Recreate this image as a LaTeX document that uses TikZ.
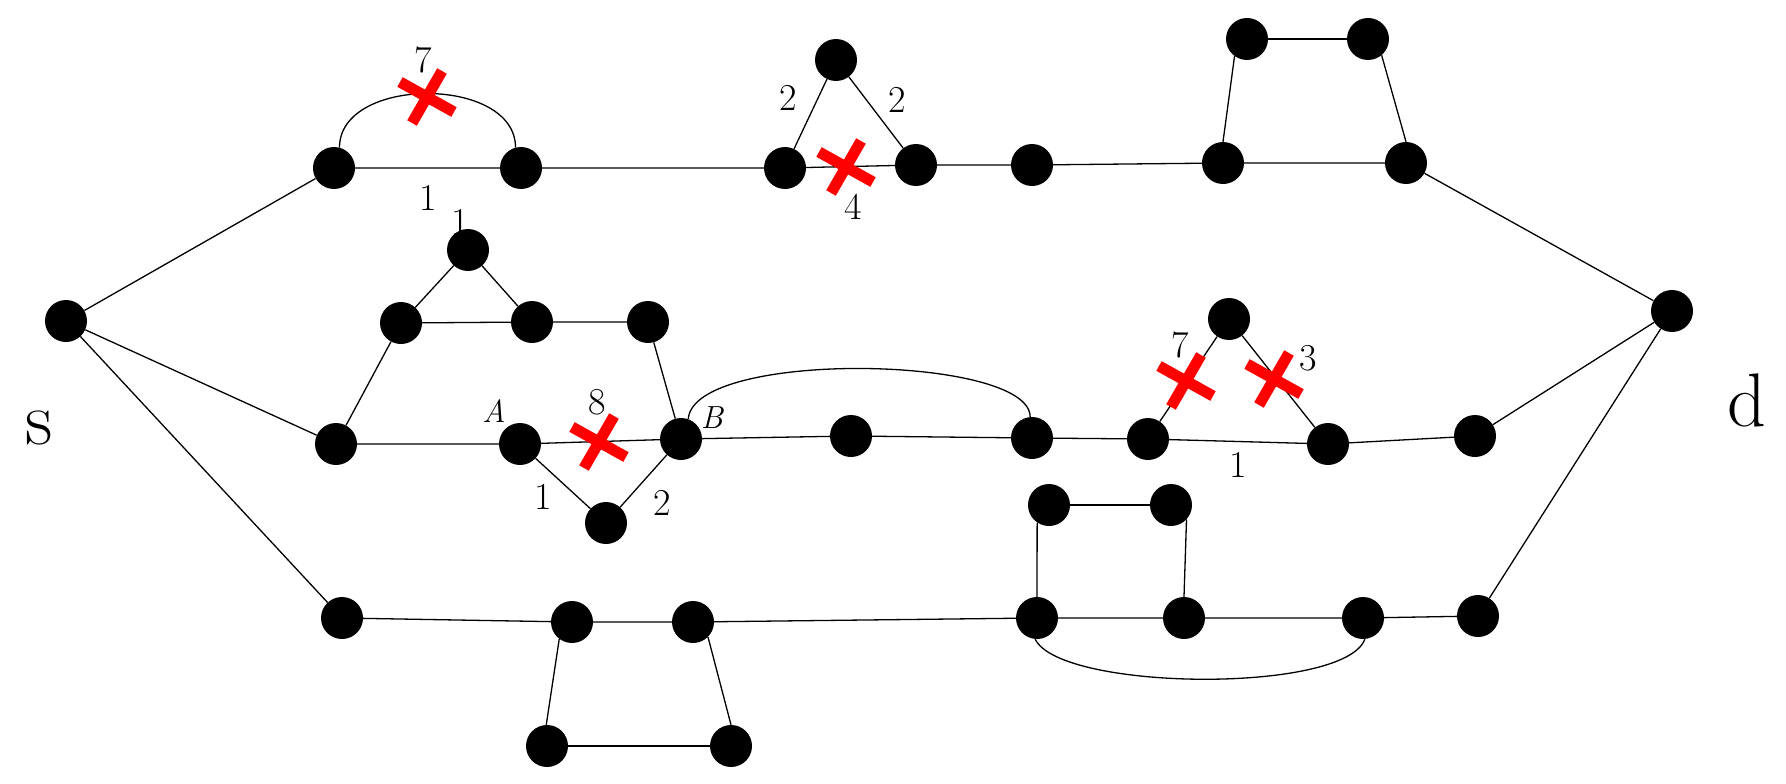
\documentclass[tikz,border=0pt]{standalone}
\usepackage{fontspec}
\begin{document}
\begin{tikzpicture}[x=1pt,y=-1pt,
  vtx/.style={circle,fill=black,inner sep=0pt,minimum size=42pt},
  edge/.style={line width=1.3pt,black},
  lbl/.style={inner sep=0pt,font=\fontsize{38}{40}\selectfont},
  ptl/.style={inner sep=0pt,font=\fontsize{32}{34}\selectfont\itshape},
  big/.style={inner sep=0pt,font=\fontsize{76}{80}\selectfont},
  redx/.pic={\draw[red,line width=11pt] (-27,-15) -- (27,15);
             \draw[red,line width=11pt] (15,-26) -- (-15,26);}
]
\useasboundingbox (0,0) rectangle (1786,784);
% nodes
\node[vtx] (s) at (66,321) {};
\node[vtx] (t1) at (334,168) {};
\node[vtx] (t2) at (521,168) {};
\node[vtx] (ta) at (785,168) {};
\node[vtx] (tp) at (836,60) {};
\node[vtx] (tb) at (916,165) {};
\node[vtx] (t3) at (1032,165) {};
\node[vtx] (t4) at (1223,163) {};
\node[vtx] (t5) at (1406,163) {};
\node[vtx] (q1) at (1247,39) {};
\node[vtx] (q2) at (1368,39) {};
\node[vtx] (d) at (1672,311) {};
\node[vtx] (m1) at (336,444) {};
\node[vtx] (mt1) at (401,323) {};
\node[vtx] (mtp) at (468,250) {};
\node[vtx] (mt2) at (532,322) {};
\node[vtx] (mt3) at (648,322) {};
\node[vtx] (A) at (520,444) {};
\node[vtx] (B) at (681,439) {};
\node[vtx] (mb) at (606,523) {};
\node[vtx] (m2) at (851,436) {};
\node[vtx] (m3) at (1032,438) {};
\node[vtx] (m4) at (1148,439) {};
\node[vtx] (mp) at (1229,319) {};
\node[vtx] (m5) at (1328,444) {};
\node[vtx] (m6) at (1475,436) {};
\node[vtx] (b1) at (342,618) {};
\node[vtx] (b2) at (572,622) {};
\node[vtx] (b3) at (693,622) {};
\node[vtx] (bs1) at (547,746) {};
\node[vtx] (bs2) at (731,746) {};
\node[vtx] (b4) at (1037,618) {};
\node[vtx] (bq1) at (1049,505) {};
\node[vtx] (bq2) at (1171,505) {};
\node[vtx] (b5) at (1184,618) {};
\node[vtx] (b6) at (1363,618) {};
\node[vtx] (b7) at (1478,616) {};
% edges
\draw[edge] (s) -- (t1);
\draw[edge] (s) -- (m1);
\draw[edge] (s) -- (b1);
\draw[edge] (t1) -- (t2) -- (ta) -- (tb) -- (t3) -- (t4) -- (t5) -- (d);
\draw[edge] (ta) -- (tp) -- (tb);
\draw[edge] (q1.-126) -- (t4.90);
\draw[edge] (q1) -- (q2);
\draw[edge] (q2.-50) -- (t5.90);
\draw[edge] (t1.75) .. controls +(0,-72) and +(0,-72) .. (t2.105);
\draw[edge] (m1) -- (mt1) -- (mtp) -- (mt2);
\draw[edge] (mt1) -- (mt2) -- (mt3) -- (B);
\draw[edge] (m1) -- (A) -- (B) -- (m2) -- (m3) -- (m4) -- (m5) -- (m6) -- (d);
\draw[edge] (A) -- (mb) -- (B);
\draw[edge] (m4) -- (mp) -- (m5);
\draw[edge] (B.70) .. controls +(5,-70) and +(0,-62) .. (m3.95);
\draw[edge] (b1) -- (b2) -- (b3) -- (b4) -- (b5) -- (b6) -- (b7) -- (d);
\draw[edge] (b2.-127) -- (bs1.92);
\draw[edge] (bs1) -- (bs2);
\draw[edge] (b3.-45) -- (bs2.90);
\draw[edge] (bq1.-124) -- (b4.90);
\draw[edge] (bq1) -- (bq2);
\draw[edge] (bq2.-43) -- (b5.90);
\draw[edge] (b4.-95) .. controls +(25,52) and +(-20,55) .. (b6.-85);
% crosses
\pic at (427,97) {redx};
\pic at (846,167) {redx};
\pic at (599,442) {redx};
\pic at (1186,381) {redx};
\pic at (1274,379) {redx};
% labels
\node[lbl] (l7a) at (423,60) {7};
\node[lbl] (l1a) at (428,198) {1};
\node[lbl] (l1b) at (460,222) {1};
\node[lbl] (l2a) at (788,98) {2};
\node[lbl] (l2b) at (897,100) {2};
\node[lbl] (l4) at (853,207) {4};
\node[ptl] (lA) at (494,411) {A};
\node[lbl] (l8) at (597,402) {8};
\node[ptl] (lB) at (712,418) {B};
\node[lbl] (l1c) at (543,497) {1};
\node[lbl] (l2c) at (662,503) {2};
\node[lbl] (l7b) at (1180,345) {7};
\node[lbl] (l3) at (1308,358) {3};
\node[lbl] (l1d) at (1238,465) {1};
\node[big] (ls) at (39,428) {s};
\node[big] (ld) at (1747,400) {d};
\end{tikzpicture}
\end{document}
